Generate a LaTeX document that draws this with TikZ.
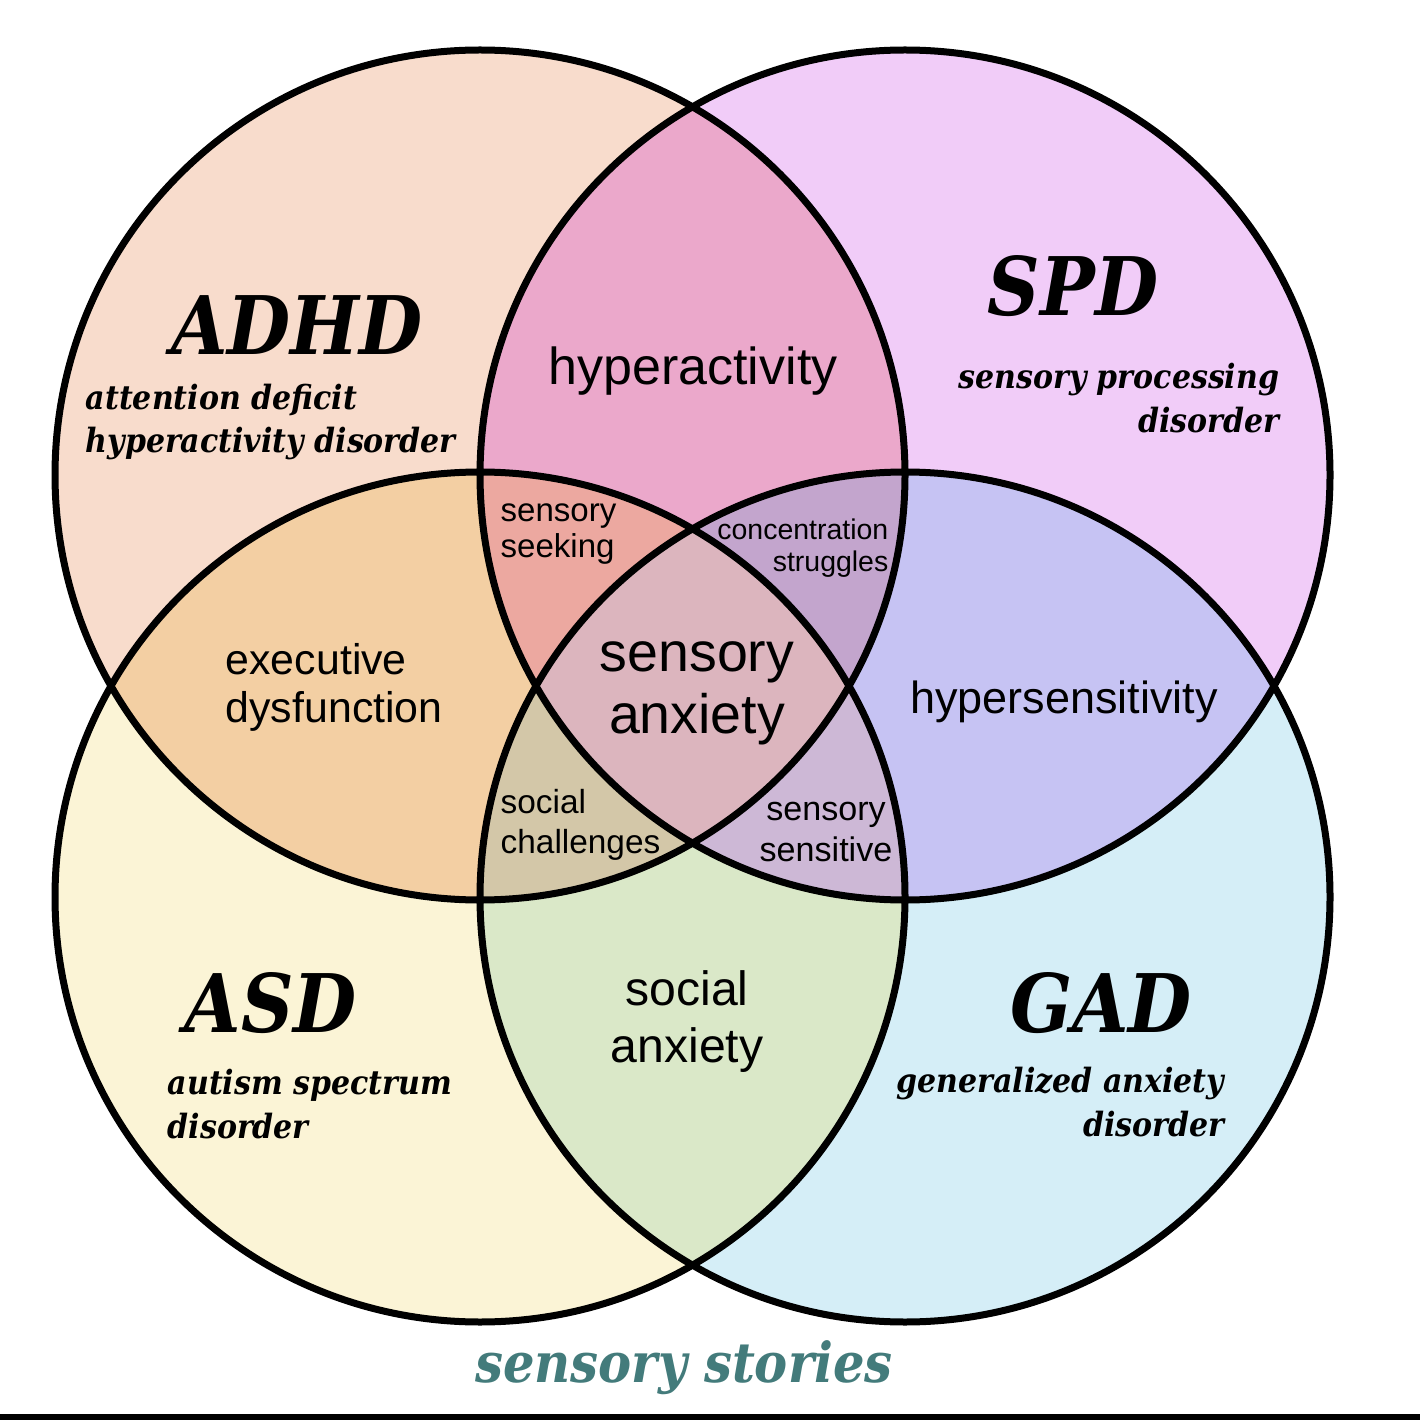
\documentclass[tikz,border=0pt]{standalone}
\usepackage{fontspec}
\setmainfont{DejaVu Serif Condensed}
\setsansfont{Liberation Sans}
\definecolor{adhdc}{HTML}{F8DCCC}
\definecolor{spdc}{HTML}{F1CCF8}
\definecolor{asdc}{HTML}{FBF4D6}
\definecolor{gadc}{HTML}{D5EEF7}
\definecolor{hypc}{HTML}{EBA8CB}
\definecolor{exec}{HTML}{F3CFA3}
\definecolor{hsenc}{HTML}{C6C3F3}
\definecolor{socc}{HTML}{DAE8C8}
\definecolor{seekc}{HTML}{ECA8A0}
\definecolor{concc}{HTML}{C3A5CD}
\definecolor{chalc}{HTML}{D3C7A8}
\definecolor{sensc}{HTML}{CDB8D6}
\definecolor{midc}{HTML}{DCB5BE}
\definecolor{brand}{HTML}{437B7B}
\begin{document}
\begin{tikzpicture}[x=0.1mm,y=-0.1mm]
\tikzstyle{ring}=[draw=black,line width=0.7mm]
\tikzstyle{title}=[inner sep=0pt,font=\bfseries\itshape\fontsize{23}{23}\selectfont]
\tikzstyle{sub}=[inner sep=0pt,font=\bfseries\itshape\fontsize{9.5}{12.5}\selectfont]
\tikzstyle{lab}=[inner sep=0pt,align=center,font=\sffamily]
\useasboundingbox (0,0) rectangle (1420,1420);
\fill[white] (0,0) rectangle (1420,1420);
\coordinate (adhd) at (480,475);
\coordinate (spd) at (905,475);
\coordinate (asd) at (480,897);
\coordinate (gad) at (905,897);
\fill[adhdc] (adhd) circle (42.5mm);
\fill[spdc] (spd) circle (42.5mm);
\fill[asdc] (asd) circle (42.5mm);
\fill[gadc] (gad) circle (42.5mm);
\begin{scope}
  \clip (adhd) circle (42.5mm);
  \fill[hypc] (spd) circle (42.5mm);
  \fill[exec] (asd) circle (42.5mm);
\end{scope}
\begin{scope}
  \clip (gad) circle (42.5mm);
  \fill[hsenc] (spd) circle (42.5mm);
  \fill[socc] (asd) circle (42.5mm);
\end{scope}
\begin{scope}
  \clip (adhd) circle (42.5mm);
  \clip (spd) circle (42.5mm);
  \fill[seekc] (asd) circle (42.5mm);
  \fill[concc] (gad) circle (42.5mm);
\end{scope}
\begin{scope}
  \clip (asd) circle (42.5mm);
  \clip (gad) circle (42.5mm);
  \fill[chalc] (adhd) circle (42.5mm);
  \fill[sensc] (spd) circle (42.5mm);
\end{scope}
\begin{scope}
  \clip (adhd) circle (42.5mm);
  \clip (spd) circle (42.5mm);
  \clip (asd) circle (42.5mm);
  \fill[midc] (gad) circle (42.5mm);
\end{scope}
\draw[ring] (adhd) circle (42.5mm) (spd) circle (42.5mm) (asd) circle (42.5mm) (gad) circle (42.5mm);
\node[title] (t1) at (297,325) {ADHD};
\node[title] (t2) at (1073,286) {SPD};
\node[title] (t3) at (271,1003) {ASD};
\node[title] (t4) at (1101,1003) {GAD};
\node[sub,align=left,anchor=west] (s1) at (85,422) {attention deficit\\hyperactivity disorder};
\node[sub,align=right,anchor=east] (s2) at (1280,398) {sensory processing\\disorder};
\node[sub,align=left,anchor=west] (s3) at (167,1104) {autism spectrum\\disorder};
\node[sub,align=right,anchor=east] (s4) at (1225,1102) {generalized anxiety\\disorder};
\node[lab,font=\sffamily\fontsize{14.8}{17}\selectfont] (r1) at (693,371) {hyperactivity};
\node[lab,align=left,anchor=west,font=\sffamily\fontsize{9.4}{10.5}\selectfont] (r2) at (500,534) {sensory\\seeking};
\node[lab,align=right,anchor=east,font=\sffamily\fontsize{8.1}{9.1}\selectfont] (r3) at (889,548) {concentration\\struggles};
\node[lab,font=\sffamily\fontsize{15.8}{17.6}\selectfont] (r4) at (697,693) {sensory\\anxiety};
\node[lab,align=left,anchor=west,font=\sffamily\fontsize{12.2}{13.7}\selectfont] (r5) at (225,687) {executive\\dysfunction};
\node[lab,font=\sffamily\fontsize{12.8}{14}\selectfont] (r6) at (1064,702) {hypersensitivity};
\node[lab,align=left,anchor=west,font=\sffamily\fontsize{9.5}{11.4}\selectfont] (r7) at (500,825) {social\\challenges};
\node[lab,font=\sffamily\fontsize{9.7}{11.4}\selectfont] (r8) at (826,832) {sensory\\sensitive};
\node[lab,font=\sffamily\fontsize{13.7}{16.2}\selectfont] (r9) at (687,1022) {social\\anxiety};
\node[inner sep=0pt,text=brand,font=\bfseries\itshape\fontsize{15.7}{16}\selectfont] (brand) at (684,1368) {sensory stories};
\fill[black] (0,1414) rectangle (1420,1420);
\end{tikzpicture}
\end{document}
